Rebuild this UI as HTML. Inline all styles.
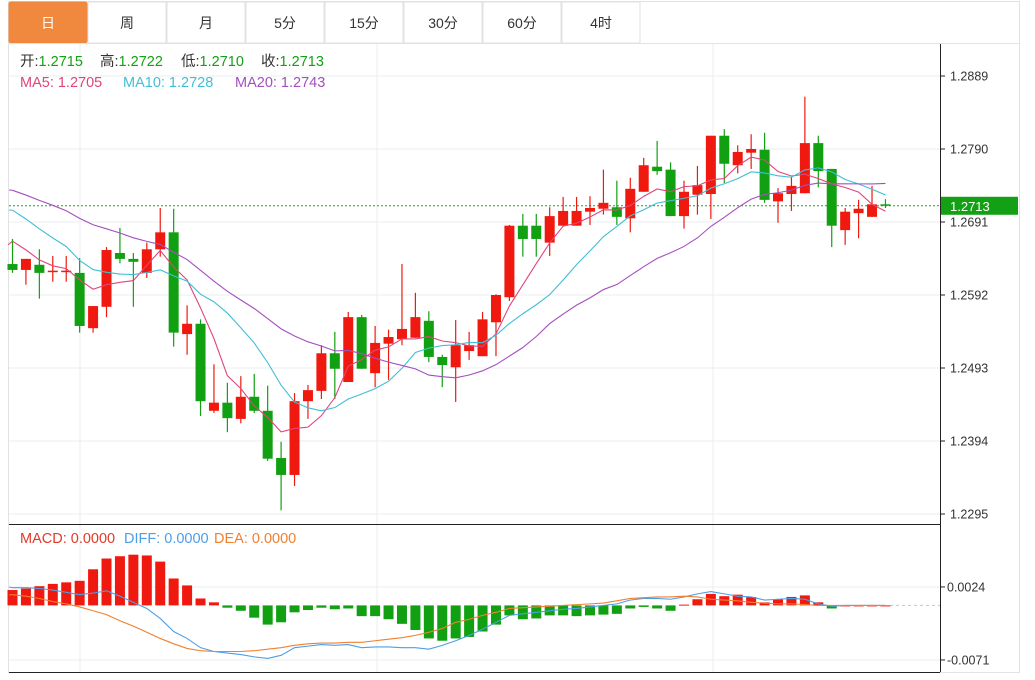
<!DOCTYPE html>
<html><head><meta charset="utf-8"><style>
body{margin:0;background:#fff;width:1035px;height:675px;overflow:hidden;font-family:"Liberation Sans","Noto Sans CJK SC",sans-serif}
svg text{font-family:"Liberation Sans","Noto Sans CJK SC",sans-serif}
</style></head><body>
<svg id="c" width="1035" height="675" xmlns="http://www.w3.org/2000/svg">
<g id="tabs"></g>
<g id="grid"></g>
<g id="main"></g>
<g id="macd"></g>
<g id="axes"></g>
<g id="leg" font-size="14.5">
<text y="66"><tspan x="20" fill="#333">开:</tspan><tspan fill="#14a014">1.2715</tspan><tspan x="100" fill="#333">高:</tspan><tspan fill="#14a014">1.2722</tspan><tspan x="181" fill="#333">低:</tspan><tspan fill="#14a014">1.2710</tspan><tspan x="261" fill="#333">收:</tspan><tspan fill="#14a014">1.2713</tspan></text>
<text y="87"><tspan x="20" fill="#e0457b">MA5: 1.2705</tspan><tspan x="123" fill="#3fbfd6">MA10: 1.2728</tspan><tspan x="235" fill="#a44fc0">MA20: 1.2743</tspan></text>
<text y="543"><tspan x="20" fill="#e03a2a">MACD: 0.0000</tspan><tspan x="124" fill="#4d9ee8">DIFF: 0.0000</tspan><tspan x="214" fill="#f08030">DEA: 0.0000</tspan></text>
</g>
</svg>
<script>
const periods=["日","周","月","5分","15分","30分","60分","4时"];
const history=[12770,12765,12760,12772,12758,12750,12762,12755,12768,12750,12760,12755,12750,12740,12740,12700,12690,12665,12644];
const opens=[12634,12626,12633,12623,12623,12622,12547,12576,12649,12641,12622,12654,12677,12539,12553,12435,12446,12424,12454,12435,12371,12348,12448,12462,12513,12474,12562,12486,12526,12532,12534,12557,12508,12494,12516,12509,12555,12589,12686,12686,12663,12686,12686,12705,12709,12711,12696,12732,12766,12762,12699,12728,12729,12808,12768,12785,12789,12719,12729,12730,12798,12763,12680,12703,12698,12715];
const highs=[12668,12641,12654,12645,12645,12642,12577,12657,12683,12649,12663,12710,12709,12578,12559,12498,12473,12482,12485,12469,12393,12459,12470,12524,12542,12569,12565,12550,12545,12634,12595,12570,12511,12558,12542,12569,12593,12687,12702,12702,12711,12725,12725,12726,12762,12747,12751,12778,12801,12772,12747,12767,12808,12817,12795,12810,12812,12737,12752,12861,12808,12763,12710,12721,12740,12722];
const lows=[12622,12606,12587,12610,12610,12541,12541,12562,12635,12576,12615,12644,12522,12511,12428,12432,12406,12418,12432,12367,12300,12333,12424,12451,12451,12474,12492,12467,12477,12524,12534,12501,12467,12447,12504,12509,12509,12584,12644,12644,12645,12686,12686,12687,12701,12687,12677,12732,12755,12699,12682,12701,12695,12744,12757,12763,12717,12690,12706,12730,12738,12657,12660,12669,12698,12710];
const closes=[12626,12641,12622,12625,12625,12550,12577,12653,12641,12637,12654,12677,12541,12553,12448,12446,12425,12454,12435,12370,12348,12448,12463,12513,12492,12562,12492,12527,12535,12546,12562,12508,12497,12524,12524,12559,12592,12686,12668,12668,12699,12706,12706,12710,12717,12698,12736,12768,12760,12699,12732,12741,12808,12770,12786,12790,12721,12730,12740,12798,12760,12686,12705,12709,12715,12713];
const macdHist=[20,22,25,28,30,32,47,61,64,66,65,57,35,26,9,4,-3,-7,-16,-25,-22,-9,-6,-3,-5,-4,-14,-14,-18,-24,-32,-43,-46,-43,-41,-34,-25,-13,-18,-17,-13,-13,-14,-13,-12,-11,-4,-2,-4,-7,1,8,15,12,14,11,4,8,11,13,4,-4,0,0,0,0];
const diffLine=[23,23,22,20,17,14,16,19,12,4,-4,-17,-34,-43,-55,-60,-62,-64,-67,-69,-65,-55,-53,-51,-52,-51,-55,-54,-54,-55,-55,-57,-52,-46,-39,-31,-22,-13,-11,-9,-7,-5,-4,-2,0,2,7,9,9,8,11,15,18,15,12,11,7,8,9,8,2,-1,0,0,0,0];
const deaLine=[14,12,9,5,2,-2,-7,-12,-20,-27,-35,-43,-50,-56,-59,-60,-60,-60,-59,-57,-55,-52,-50,-49,-49,-48,-48,-46,-44,-42,-39,-35,-30,-22,-18,-13,-9,-4,-3,-2,-1,0,1,2,3,6,9,10,11,11,12,11,8,7,6,4,3,2,2,1,0,0,0,0,0,0];
const priceTicks=["1.2889","1.2790","1.2691","1.2592","1.2493","1.2394","1.2295"];
const macdTicks=["0.0024","-0.0071"];
const lastPrice="1.2713";

const NS="http://www.w3.org/2000/svg";
function mk(p,t,a){const e=document.createElementNS(NS,t);for(const k in a)e.setAttribute(k,a[k]);p.appendChild(e);return e;}
const X=i=>12.5+13.43*i;
const Y=v=>76+(12889-v)*0.7374;
const MY=v=>605.4-v*0.7684;
const RED="#f0190f",GRN="#11a011";

const tabs=document.getElementById('tabs');
mk(tabs,'rect',{x:8.5,y:1.5,width:1011,height:42,fill:'#fff',stroke:'#e2e2e2'});
periods.forEach((p,i)=>{
  const x=9+i*79;
  const r=mk(tabs,'rect',{x:x,y:2,width:78,height:41,fill:i==0?'#f0883e':'#fff',stroke:i==0?'#f0883e':'#e2e2e2',rx:i==0?2:0});
  
  
  const t=mk(tabs,'text',{x:x+39,y:28,'text-anchor':'middle','font-size':14,fill:i==0?'#fff':'#333'});
  t.textContent=p;
  
  
});

const grid=document.getElementById('grid');
mk(grid,'rect',{x:8.5,y:43.5,width:1011,height:629,fill:'none',stroke:'#e2e2e2'});
priceTicks.forEach(t=>{const y=Y(Math.round(parseFloat(t)*10000));mk(grid,'line',{x1:9,x2:940,y1:y,y2:y,stroke:'#e8edf2'});});
[80,377,713].forEach(x=>mk(grid,'line',{x1:x,x2:x,y1:44,y2:672,stroke:'#e8edf2'}));
macdTicks.forEach(t=>{const y=MY(parseFloat(t)*10000);mk(grid,'line',{x1:9,x2:940,y1:y,y2:y,stroke:'#e8edf2'});});

const main=document.getElementById('main');
mk(main,'line',{x1:9,x2:940,y1:Y(12713),y2:Y(12713),stroke:'#22a022','stroke-dasharray':'2,2'});
opens.forEach((o,i)=>{
  const c=closes[i],up=c>=o,col=up?RED:GRN,x=X(i);
  const w=mk(main,'line',{x1:x,x2:x,y1:Y(highs[i]),y2:Y(lows[i]),stroke:col,'stroke-width':1.2});
  
  
  const t=Y(Math.max(o,c)),b=Y(Math.min(o,c));
  const r=mk(main,'rect',{x:x-5,y:t,width:10,height:Math.max(b-t,1.5),fill:col});
  
  
});
const all=history.concat(closes);
function ma(n){return closes.map((_,i)=>{let s=0;for(let k=0;k<n;k++)s+=all[i+history.length-k];return s/n;});}
[[5,'#e0457b'],[10,'#3fbfd6'],[20,'#a44fc0']].forEach(([n,col])=>{
  const v=ma(n);
  const p=mk(main,'polyline',{points:v.map((m,i)=>X(i)+','+Y(m)).join(' '),fill:'none',stroke:col,'stroke-width':1.1});
  
  
});
mk(main,'line',{x1:8,x2:X(0),y1:Y(12660),y2:Y(12665),stroke:'#e0457b'});
mk(main,'polyline',{points:'9,190 '+X(0)+','+Y(ma(20)[0]),fill:'none',stroke:'#a44fc0'});
mk(main,'polyline',{points:'9,210 '+X(0)+','+Y(ma(10)[0]),fill:'none',stroke:'#3fbfd6'});

const mg=document.getElementById('macd');
mk(mg,'line',{x1:9,x2:940,y1:524.5,y2:524.5,stroke:'#222'});
mk(mg,'line',{x1:9,x2:940,y1:672.5,y2:672.5,stroke:'#222'});
mk(mg,'line',{x1:890,x2:940,y1:MY(0),y2:MY(0),stroke:'#9fd0ea','stroke-dasharray':'3,3'});
macdHist.forEach((v,i)=>{
  const y0=MY(0),y1=MY(v);
  const r=mk(mg,'rect',{x:X(i)-5,y:Math.min(y0,y1),width:10,height:Math.max(Math.abs(y1-y0),1),fill:v>=0?RED:GRN});
  
  
});
[[diffLine,'#4d9ee8','diff-line'],[deaLine,'#f08030','dea-line']].forEach(([arr,col,nm])=>{
  const p=mk(mg,'polyline',{points:arr.map((v,i)=>X(i)+','+MY(v)).join(' '),fill:'none',stroke:col,'stroke-width':1.1});
  
  
});
mk(mg,'line',{x1:9,x2:X(0),y1:587,y2:MY(diffLine[0]),stroke:'#4d9ee8'});
mk(mg,'line',{x1:9,x2:X(0),y1:595,y2:MY(deaLine[0]),stroke:'#f08030'});

const ax=document.getElementById('axes');
mk(ax,'line',{x1:940.5,x2:940.5,y1:44,y2:672,stroke:'#222'});
priceTicks.forEach(t=>{
  const y=Y(Math.round(parseFloat(t)*10000));
  mk(ax,'line',{x1:940,x2:945,y1:y,y2:y,stroke:'#222'});
  const e=mk(ax,'text',{x:950,y:y+4.5,'font-size':12.5,fill:'#333'});e.textContent=t;
  
  
});
macdTicks.forEach(t=>{
  const y=MY(parseFloat(t)*10000);
  mk(ax,'line',{x1:940,x2:945,y1:y,y2:y,stroke:'#222'});
  const e=mk(ax,'text',{x:947,y:y+4.5,'font-size':12.5,fill:'#333'});e.textContent=t;
  
  
});
const ly=Y(12713);
mk(ax,'rect',{x:941,y:ly-9,width:77,height:18,fill:'#14a014'});
const lt=mk(ax,'text',{x:950,y:ly+5,'font-size':13,fill:'#fff'});lt.textContent=lastPrice;


</script>
</body></html>
